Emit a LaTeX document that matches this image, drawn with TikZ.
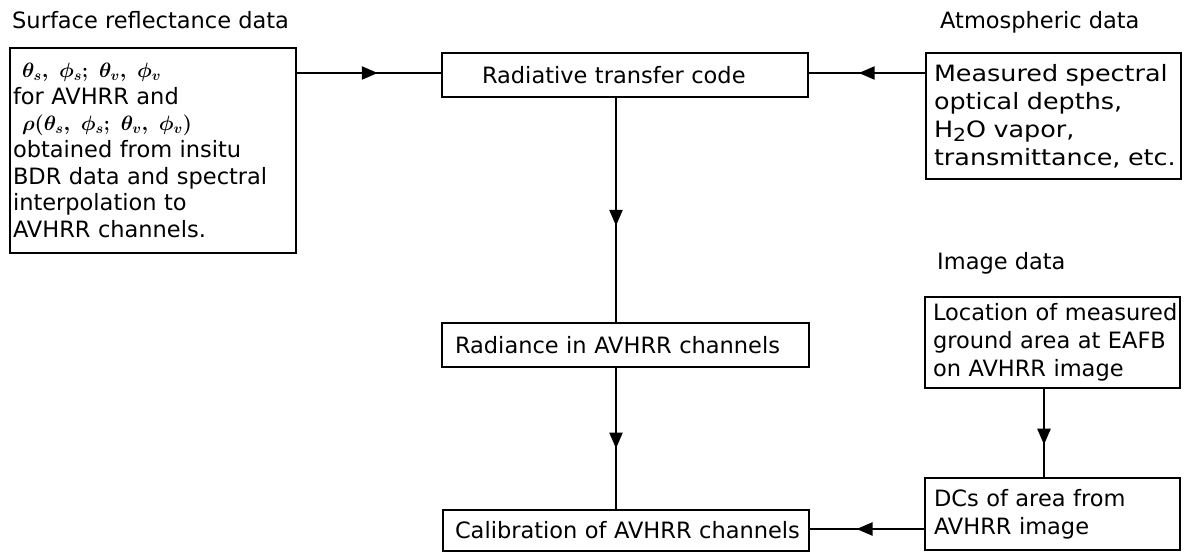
\documentclass[tikz,border=0pt]{standalone}
\usepackage{fontspec}
\setmainfont{DejaVu Sans}
\newfontfamily\widefont[FakeStretch=1.13]{DejaVu Sans}
\newcommand\lpad[1]{\leftskip=#1\relax\hyphenpenalty=10000\relax}
\usetikzlibrary{arrows.meta,decorations.markings}
\begin{document}
\begin{tikzpicture}[x=1pt,y=-1pt,
  every node/.style={font=\fontsize{22.5}{28}\selectfont},
  lab/.style={anchor=west,inner sep=0pt},
  box/.style={draw,line width=2.8pt,rectangle,outer sep=0pt,inner ysep=0pt,inner xsep=0pt,align=left},
  conn/.style={line width=2.4pt},
  midarrow/.style={postaction={decorate,decoration={markings,
     mark=at position #1 with {\arrow{Triangle[length=16pt,width=13pt]}}}}}
]
\useasboundingbox (0,0) rectangle (1184,552);

% labels
\node[lab] (lsurf) at (12,20) {Surface reflectance data};
\node[lab] (latm) at (940,22) {Atmospheric data};
\node[lab] (limg) at (937,263) {Image data};

% boxes
\node[box,minimum height=205pt,text width=286pt,
      font=\fontsize{22.5}{26.7}\selectfont] (lbox) at (153,150.5)
 {\lpad{3pt}\hspace*{9pt}{\boldmath$\theta_s,\;\phi_s;\;\theta_v,\;\phi_v$}\\
  for AVHRR and\\
  \hspace*{9pt}{\boldmath$\rho(\theta_s,\;\phi_s;\;\theta_v,\;\phi_v)$}\\
  obtained from insitu\\
  BDR data and spectral\\
  interpolation to\\
  AVHRR channels.\par};

\node[box,minimum height=44pt,text width=366pt] (rtc) at (625,75)
 {\lpad{40pt}Radiative transfer code\par};

\node[box,minimum height=126pt,text width=255pt,
      font=\widefont\fontsize{22.5}{28}\selectfont] (atm) at (1053.5,116)
 {\lpad{8pt}Measured spectral\\ optical depths,\\ H\raisebox{-4pt}{\fontsize{18}{18}\selectfont 2}O vapor,\\ transmittance, etc.\par};

\node[box,minimum height=44pt,text width=367pt] (rad) at (625.5,345)
 {\lpad{13pt}Radiance in AVHRR channels\par};

\node[box,minimum height=41pt,text width=366pt] (cal) at (626,530.5)
 {\lpad{12pt}Calibration of AVHRR channels\par};

\node[box,minimum height=91pt,text width=255pt] (loc) at (1052.5,342.5)
 {\lpad{8pt}Location of measured\\ ground area at EAFB\\ on AVHRR image\par};

\node[box,minimum height=72pt,text width=255pt] (dcs) at (1052.5,514)
 {\lpad{9pt}DCs of area from\\ AVHRR image\par};

% connectors
\draw[conn,midarrow=0.56] ([yshift=2pt]rtc.west -| lbox.east) -- ([yshift=2pt]rtc.west);
\draw[conn,midarrow=0.57] ([yshift=2pt]rtc.east -| atm.west) -- ([yshift=2pt]rtc.east);
\draw[conn,midarrow=0.57] ([xshift=-9pt]rtc.south) -- ([xshift=-9.5pt]rad.north);
\draw[conn,midarrow=0.57] ([xshift=-9.5pt]rad.south) -- ([xshift=-10pt]cal.north);
\draw[conn,midarrow=0.63] ([xshift=-8.5pt]loc.south) -- ([xshift=-8.5pt]dcs.north);
\draw[conn,midarrow=0.59] ([yshift=1.5pt]cal.east -| dcs.west) -- ([yshift=1.5pt]cal.east);
\end{tikzpicture}
\end{document}
